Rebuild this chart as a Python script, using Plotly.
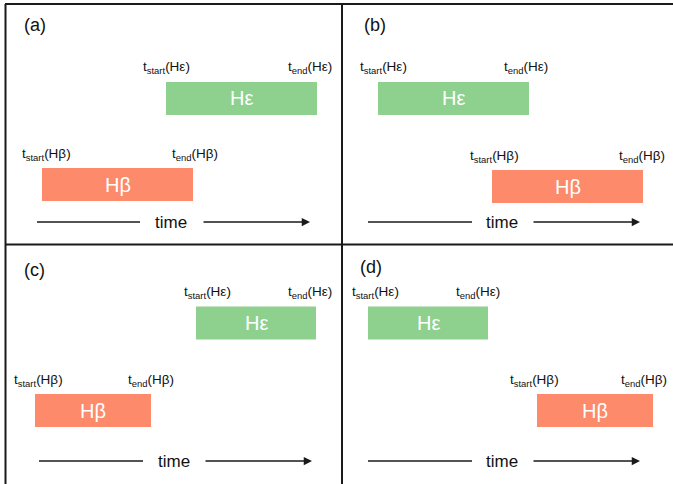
import plotly.graph_objects as go

# ---- data (time units, arbitrary) ----
panels = ["(a)", "(b)", "(c)", "(d)"]
series = ["Hε", "Hβ"]
he_start = [16.0, 3.6, 19.0, 2.6]
he_end = [31.1, 18.7, 31.0, 14.6]
hb_start = [3.6, 15.0, 2.9, 19.5]
hb_end = [18.7, 30.1, 14.5, 31.1]
arrow_label = "time"

# ---- layout / style ----
W, H = 673, 484
GREEN = "#8ed18f"
RED = "#fd8a6a"
FONT = "Liberation Sans, Arial, Helvetica, sans-serif"
LINE = "#1a1a1a"

# panel boxes in pixels: (left, right, top, bottom)
boxes = [(6, 342, 4, 244), (342, 673, 4, 244), (6, 342, 244, 484), (342, 673, 244, 484)]
# row centers (pixels) for Hε, Hβ in each panel
row_px = [(98.5, 184.5), (98.5, 186.5), (323, 410.5), (323, 410.5)]
BAR_PX = 33
# label offsets (px) : he_start, he_end, hb_start, hb_end
lab_dx = [(0.5, -7, 4.5, 1.5), (5.5, -3.5, 2, -1.5), (11, -6, 3.5, 0), (7, -10, -2.5, -9)]
# panel-letter position (px)
letter_px = [(22, 25), (362, 25), (22, 270), (358, 267)]
# arrow geometry (px): line start, line end, arrow start, arrow end, y
arrow_px = [(37, 140, 202, 310, 222), (368, 472, 532, 640, 222),
            (39, 143, 204, 312, 461), (368, 472, 532, 640, 461)]
PX_PER_T = 10.0

fig = go.Figure()
annotations = []
shapes = []

for i in range(4):
    L, R, T, B = boxes[i]
    sfx = "" if i == 0 else str(i + 1)
    xa, ya = "x" + sfx, "y" + sfx
    ye, yb = row_px[i]
    spacing = yb - ye
    # y axis: Hβ row = 0, Hε row = 1
    y_lo = -(B - yb) / spacing
    y_hi = 1 + (ye - T) / spacing
    bw = BAR_PX / spacing
    fig.update_layout(**{
        "xaxis" + sfx: dict(domain=[L / W, R / W], range=[0, (R - L) / PX_PER_T],
                            visible=False, fixedrange=True, anchor=ya),
        "yaxis" + sfx: dict(domain=[1 - B / H, 1 - T / H], range=[y_lo, y_hi],
                            visible=False, fixedrange=True, anchor=xa),
    })
    starts = [he_start[i], hb_start[i]]
    ends = [he_end[i], hb_end[i]]
    fig.add_trace(go.Bar(
        orientation="h", y=[1, 0], base=starts,
        x=[e - s for s, e in zip(starts, ends)],
        width=[bw, bw], marker=dict(color=[GREEN, RED], line=dict(width=0)),
        xaxis=xa, yaxis=ya, showlegend=False, hoverinfo="skip",
    ))
    for row, name, s, e, k in [(1, series[0], starts[0], ends[0], 0), (0, series[1], starts[1], ends[1], 2)]:
        annotations.append(dict(x=(s + e) / 2, y=row, xref=xa, yref=ya, text=name,
                                showarrow=False, font=dict(family=FONT, size=20, color="white"),
                                xanchor="center", yanchor="middle"))
        for xv, lbl, dx in [(s, "t<sub>start</sub>(%s)" % name, lab_dx[i][k]),
                            (e, "t<sub>end</sub>(%s)" % name, lab_dx[i][k + 1])]:
            annotations.append(dict(x=xv, y=row + bw / 2, xref=xa, yref=ya, text=lbl,
                                    showarrow=False, font=dict(family=FONT, size=13.5, color="#111"),
                                    xanchor="center", yanchor="middle", xshift=dx, yshift=14))
    # panel letter
    lx, ly = letter_px[i]
    annotations.append(dict(x=(lx - L) / (R - L), y=(B - ly) / (B - T), xref=xa + " domain",
                            yref=ya + " domain", text=panels[i], showarrow=False,
                            font=dict(family=FONT, size=18, color="#111"),
                            xanchor="left", yanchor="middle"))
    # time arrow
    a0, a1, a2, a3, ay = arrow_px[i]
    yd = (B - ay) / (B - T)
    shapes.append(dict(type="line", xref=xa, yref=ya + " domain",
                       x0=(a0 - L) / PX_PER_T, x1=(a1 - L) / PX_PER_T, y0=yd, y1=yd,
                       line=dict(color=LINE, width=1.5)))
    annotations.append(dict(x=(a3 - L) / PX_PER_T, y=yd, ax=(a2 - L) / PX_PER_T, ay=yd,
                            xref=xa, yref=ya + " domain", axref=xa, ayref=ya + " domain",
                            text="", showarrow=True, arrowhead=2, arrowsize=1.1,
                            arrowwidth=1.5, arrowcolor=LINE, standoff=0, startstandoff=0))
    annotations.append(dict(x=((a1 + a2) / 2 - L) / PX_PER_T, y=yd, xref=xa, yref=ya + " domain",
                            text=arrow_label, showarrow=False,
                            font=dict(family=FONT, size=17, color="#111"),
                            xanchor="center", yanchor="middle"))

# frame lines (paper coords)
def px(x):
    return x / W

def py(y):
    return 1 - y / H

for (x0, y0, x1, y1) in [(5, 4, 673, 4), (5.5, 4, 5.5, 484), (342, 4, 342, 484), (5, 244.5, 673, 244.5)]:
    shapes.append(dict(type="line", xref="paper", yref="paper", x0=px(x0), x1=px(x1),
                       y0=py(y0), y1=py(y1), line=dict(color=LINE, width=2)))

fig.update_layout(
    width=W, height=H, margin=dict(l=0, r=0, t=0, b=0),
    paper_bgcolor="white", plot_bgcolor="white",
    annotations=annotations, shapes=shapes, barmode="overlay",
)
fig.write_html("out.html", config={"displayModeBar": False})
